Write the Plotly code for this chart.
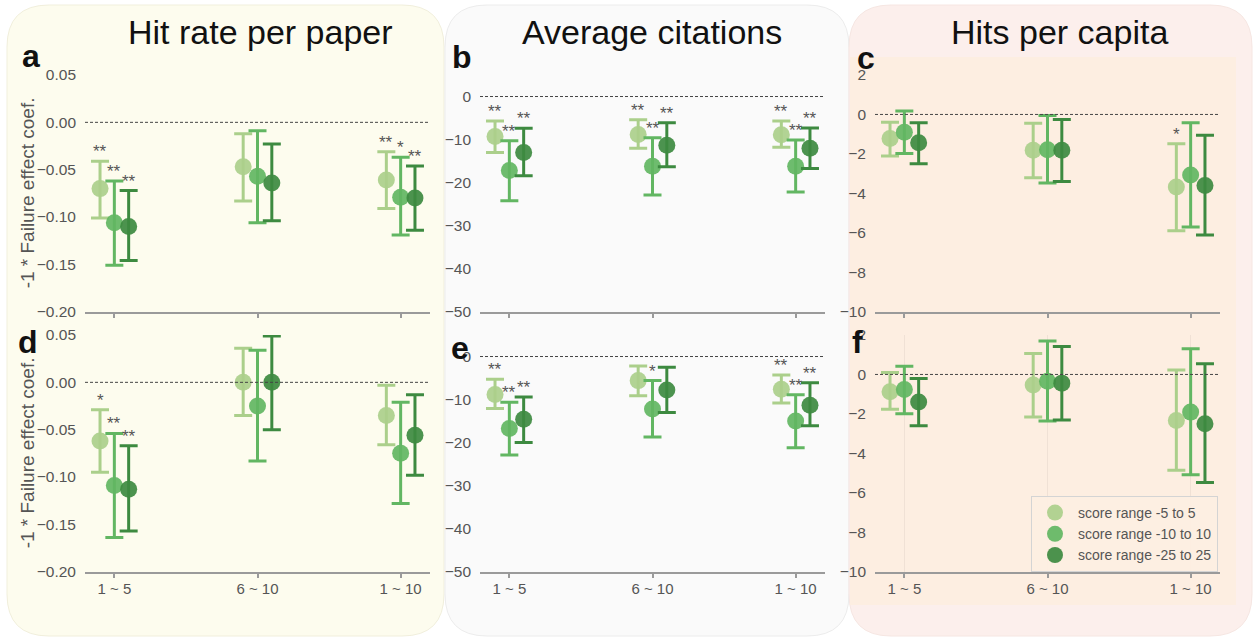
import plotly.graph_objects as go

W, H = 1253, 638

GROUPS = ["1 ~ 5", "6 ~ 10", "1 ~ 10"]
SERIES = ["score range -5 to 5", "score range -10 to 10", "score range -25 to 25"]
COLORS = ["#abcf8b", "#62b662", "#3d8a40"]

# Each panel: one row per score range, one column per group (1~5, 6~10, 1~10)
a_mean = [[-0.070, -0.047, -0.061], [-0.106, -0.057, -0.079], [-0.110, -0.064, -0.080]]
a_lo = [[-0.101, -0.083, -0.091], [-0.151, -0.106, -0.119], [-0.146, -0.104, -0.114]]
a_hi = [[-0.041, -0.012, -0.031], [-0.062, -0.009, -0.037], [-0.072, -0.023, -0.046]]
a_sig = [["**", "", "**"], ["**", "", "*"], ["**", "", "**"]]

b_mean = [[-9.3, -8.8, -8.9], [-17.2, -16.2, -16.2], [-13.0, -11.3, -12.0]]
b_lo = [[-13.0, -12.0, -11.8], [-24.2, -22.9, -22.2], [-18.4, -16.3, -16.7]]
b_hi = [[-5.7, -5.4, -5.7], [-10.3, -9.6, -10.1], [-7.4, -6.1, -7.3]]
b_sig = [["**", "**", "**"], ["**", "**", "**"], ["**", "**", "**"]]

c_mean = [[-1.22, -1.82, -3.68], [-0.90, -1.79, -3.07], [-1.44, -1.82, -3.60]]
c_lo = [[-2.11, -3.21, -5.90], [-1.98, -3.48, -5.71], [-2.50, -3.40, -6.11]]
c_hi = [[-0.39, -0.44, -1.49], [0.17, -0.05, -0.42], [-0.42, -0.25, -1.05]]
c_sig = [["", "", "*"], ["", "", ""], ["", "", ""]]

d_mean = [[-0.062, 0.000, -0.035], [-0.109, -0.025, -0.075], [-0.113, 0.000, -0.056]]
d_lo = [[-0.095, -0.035, -0.066], [-0.164, -0.083, -0.128], [-0.157, -0.050, -0.098]]
d_hi = [[-0.029, 0.036, -0.003], [-0.054, 0.034, -0.021], [-0.067, 0.049, -0.013]]
d_sig = [["*", "", ""], ["**", "", ""], ["**", "", ""]]

e_mean = [[-8.8, -5.6, -7.6], [-16.7, -12.2, -15.0], [-14.6, -7.8, -11.3]]
e_lo = [[-12.1, -9.1, -10.8], [-22.9, -18.7, -21.2], [-20.0, -13.0, -16.1]]
e_hi = [[-5.3, -2.2, -4.3], [-10.6, -5.6, -8.9], [-9.4, -2.5, -6.1]]
e_sig = [["**", "", "**"], ["**", "*", "**"], ["**", "", "**"]]

f_mean = [[-0.88, -0.54, -2.33], [-0.76, -0.35, -1.91], [-1.40, -0.44, -2.50]]
f_lo = [[-1.77, -2.16, -4.86], [-1.99, -2.36, -5.09], [-2.60, -2.31, -5.48]]
f_hi = [[0.10, 1.06, 0.22], [0.42, 1.70, 1.30], [-0.20, 1.42, 0.54]]
f_sig = [["", "", ""], ["", "", ""], ["", "", ""]]

COL_TITLES = ["Hit rate per paper", "Average citations", "Hits per capita"]
Y_TITLE = "-1 * Failure effect coef."

RATE_TICKS = [0.05, 0.0, -0.05, -0.10, -0.15, -0.20]
CITE_TICKS = [0, -10, -20, -30, -40, -50]
CAPITA_TICKS = [2, 0, -2, -4, -6, -8, -10]

FONT = "Liberation Sans, Arial, sans-serif"
TICK_COLOR = "#555555"
AXIS_GRAY = "#9a9a9a"

OFFSETS = [-0.1, 0.0, 0.1]


def px_x(x):
    return x / W


def px_y(y):
    return 1 - y / H


def fmt(v, decimals):
    s = f"{abs(v):.{decimals}f}"
    return ("\u2212" + s) if v < 0 else s


panels = [
    dict(letter="a", mean=a_mean, lo=a_lo, hi=a_hi, sig=a_sig, ticks=RATE_TICKS, dec=2, rng=[-0.20, 0.05]),
    dict(letter="b", mean=b_mean, lo=b_lo, hi=b_hi, sig=b_sig, ticks=CITE_TICKS, dec=0, rng=[-50, 5]),
    dict(letter="c", mean=c_mean, lo=c_lo, hi=c_hi, sig=c_sig, ticks=CAPITA_TICKS, dec=0, rng=[-10, 2]),
    dict(letter="d", mean=d_mean, lo=d_lo, hi=d_hi, sig=d_sig, ticks=RATE_TICKS, dec=2, rng=[-0.20, 0.05]),
    dict(letter="e", mean=e_mean, lo=e_lo, hi=e_hi, sig=e_sig, ticks=CITE_TICKS, dec=0, rng=[-50, 5]),
    dict(letter="f", mean=f_mean, lo=f_lo, hi=f_hi, sig=f_sig, ticks=CAPITA_TICKS, dec=0, rng=[-10, 2]),
]

# pixel boxes of the plotting areas
X_BOXES = [(85, 430), (480, 825), (875, 1220)]
Y_BOXES = [(75, 311.7), (335, 571.7)]

# letter positions (pixel centres of the text boxes)
LETTER_POS = {"a": (31, 55.5), "b": (462, 57), "c": (866, 58), "d": (28, 342), "e": (460, 348), "f": (857, 342)}

fig = go.Figure()
layout = dict(
    width=W, height=H, autosize=False,
    margin=dict(l=0, r=0, t=0, b=0, pad=0, autoexpand=False),
    paper_bgcolor="white", plot_bgcolor="rgba(0,0,0,0)",
    font=dict(family=FONT, color=TICK_COLOR),
    showlegend=True,
)
annotations = []
shapes = []


def rrect(x0, y0, x1, y1, r):
    X, Y = px_x, px_y
    return (
        f"M {X(x0 + r)},{Y(y0)} L {X(x1 - r)},{Y(y0)} Q {X(x1)},{Y(y0)} {X(x1)},{Y(y0 + r)} "
        f"L {X(x1)},{Y(y1 - r)} Q {X(x1)},{Y(y1)} {X(x1 - r)},{Y(y1)} "
        f"L {X(x0 + r)},{Y(y1)} Q {X(x0)},{Y(y1)} {X(x0)},{Y(y1 - r)} "
        f"L {X(x0)},{Y(y0 + r)} Q {X(x0)},{Y(y0)} {X(x0 + r)},{Y(y0)} Z"
    )


# column backgrounds
for (x0, x1, fill, edge) in [
    (7, 444, "#fdfcee", "#f1efdc"),
    (445, 849, "#fafafa", "#ececec"),
    (849, 1252, "#fcefec", "#f6e6e2"),
]:
    shapes.append(dict(type="path", xref="paper", yref="paper", path=rrect(x0, 5, x1, 636, 42),
                       fillcolor=fill, line=dict(color=edge, width=1), layer="below"))
shapes.append(dict(type="rect", xref="paper", yref="paper",
                   x0=px_x(850), x1=px_x(1236), y0=px_y(605), y1=px_y(57),
                   fillcolor="#fdeee1", line=dict(width=0), layer="below"))

for i, p in enumerate(panels):
    k = i + 1
    row, col = divmod(i, 3)
    xa = "xaxis" if k == 1 else f"xaxis{k}"
    ya = "yaxis" if k == 1 else f"yaxis{k}"
    xref = "x" if k == 1 else f"x{k}"
    yref = "y" if k == 1 else f"y{k}"
    bx0, bx1 = X_BOXES[col]
    by0, by1 = Y_BOXES[row]

    layout[xa] = dict(
        domain=[px_x(bx0), px_x(bx1)], anchor=yref, range=[-0.205, 2.205],
        tickvals=[0, 1, 2], ticktext=GROUPS, showticklabels=(row == 1),
        showline=True, linecolor=AXIS_GRAY, linewidth=1.5,
        ticks="outside", ticklen=5, tickwidth=1.5, tickcolor=AXIS_GRAY,
        tickfont=dict(size=15, color=TICK_COLOR), ticklabelstandoff=-2,
        showgrid=(p["letter"] == "f"), gridcolor="rgba(0,0,0,0.05)", gridwidth=1,
        zeroline=False, fixedrange=True, automargin=False,
    )
    layout[ya] = dict(
        domain=[px_y(by1), px_y(by0)], anchor=xref, range=p["rng"],
        tickvals=p["ticks"], ticktext=[fmt(v, p["dec"]) for v in p["ticks"]],
        showline=False, showgrid=False, zeroline=False, ticks="",
        ticklabelstandoff=8, tickfont=dict(size=15.5, color=TICK_COLOR),
        fixedrange=True, automargin=False,
    )

    # dashed zero reference
    shapes.append(dict(type="line", xref=f"{xref} domain", yref=yref, x0=0, x1=1, y0=0, y1=0,
                       line=dict(color="#444444", width=1, dash="3px,2px")))

    for s in range(3):
        xs = [g + OFFSETS[s] for g in range(3)]
        ys = p["mean"][s]
        up = [h - m for h, m in zip(p["hi"][s], ys)]
        down = [m - l for m, l in zip(ys, p["lo"][s])]
        fig.add_trace(go.Scatter(
            x=xs, y=ys, mode="markers", xaxis=xref, yaxis=yref,
            name=SERIES[s], legendgroup=SERIES[s], showlegend=(p["letter"] == "f"),
            marker=dict(size=17, color=COLORS[s], opacity=0.92, line=dict(width=0)),
            error_y=dict(type="data", symmetric=False, array=up, arrayminus=down,
                         color=COLORS[s], thickness=3, width=9),
            hoverinfo="skip",
        ))
        for g in range(3):
            mark = p["sig"][s][g]
            if mark:
                annotations.append(dict(
                    x=xs[g], y=p["hi"][s][g], xref=xref, yref=yref, text=mark,
                    showarrow=False, xanchor="center", yanchor="bottom", yshift=-2,
                    font=dict(size=17, color=TICK_COLOR, family=FONT),
                ))

    lx, ly = LETTER_POS[p["letter"]]
    annotations.append(dict(x=px_x(lx), y=px_y(ly), xref="paper", yref="paper", text=f"<b>{p['letter']}</b>",
                            showarrow=False, xanchor="center", yanchor="middle",
                            font=dict(size=32, color="#111111", family=FONT)))

# column titles
for title, cx in zip(COL_TITLES, [260, 652, 1059]):
    annotations.append(dict(x=px_x(cx), y=px_y(32), xref="paper", yref="paper", text=title,
                            showarrow=False, xanchor="center", yanchor="middle",
                            font=dict(size=34, color="#111111", family=FONT)))

# shared y-axis titles for the left column
for (by0, by1) in Y_BOXES:
    annotations.append(dict(x=px_x(27), y=px_y((by0 + by1) / 2), xref="paper", yref="paper", text=Y_TITLE,
                            showarrow=False, textangle=-90, xanchor="center", yanchor="middle",
                            font=dict(size=19, color=TICK_COLOR, family=FONT)))

layout["annotations"] = annotations
layout["shapes"] = shapes
layout["legend"] = dict(
    x=px_x(1218), xanchor="right", y=px_y(572), yanchor="bottom",
    bgcolor="rgba(253,238,226,0.95)", bordercolor="#d4d4d4", borderwidth=1,
    font=dict(size=14, color=TICK_COLOR, family=FONT), tracegroupgap=0, itemwidth=36,
)
fig.update_layout(**layout)

fig.write_html("out.html")
